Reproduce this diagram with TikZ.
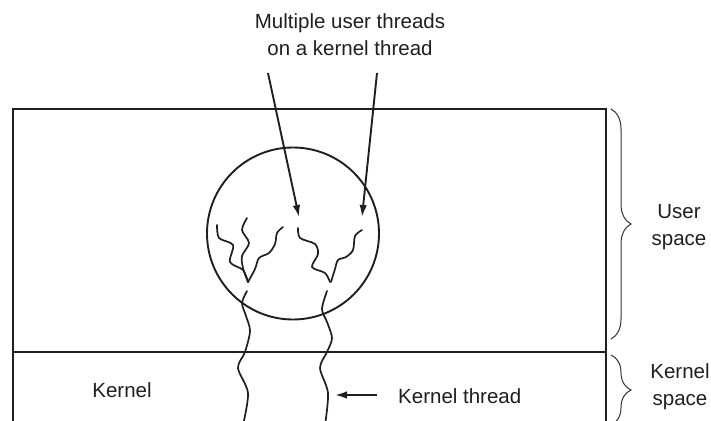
\documentclass[tikz,border=0pt]{standalone}
\usepackage{fontspec}
\setmainfont{Liberation Sans}
\usetikzlibrary{decorations.pathreplacing,arrows.meta}

\begin{document}
\begin{tikzpicture}[
  x=1pt,
  y=-1pt,
  plain/.style={
    draw=none,
    fill=none,
    text=black!88,
    font=\fontsize{20.5}{27}\selectfont,
    align=center,
    inner sep=0pt
  },
  wall/.style={
    draw=black!88,
    line width=1.9pt
  },
  thread/.style={
    draw=black!88,
    line width=1.7pt,
    line cap=round
  },
  pointer/.style={
    draw=black!88,
    line width=1.9pt,
    ->
  },
  bracket/.style={
    draw=black!80,
    line width=1pt,
    decorate,
    decoration={brace,amplitude=20pt}
  },
  >={Latex[length=12pt,width=7.5pt]}
]

\useasboundingbox (0,0) rectangle (711,420);

% Boxes
\draw[wall] (13,430) -- (13,109) -- (606,109) -- (606,430);
\draw[wall] (13,352) -- (606,352);

% Process
\node[wall,circle,minimum size=172pt,inner sep=0pt] (proc) at (293,233.5) {};

% User threads
\draw[thread] plot[smooth] coordinates {(217,225) (219,238) (233,245) (230,262) (243,270) (248,282)};
\draw[thread] plot[smooth] coordinates {(247,218) (242,230) (249,243) (242,256) (243,268) (248,282)};
\draw[thread] plot[smooth] coordinates {(283,227) (277,233) (275,244) (269,253) (259,258) (255,269) (248,282)};
\draw[thread] plot[smooth] coordinates {(298,228) (300,238) (315,244) (318,254) (312,267) (325,273) (330,282)};
\draw[thread] plot[smooth] coordinates {(362,230) (355,236) (353,250) (346,257) (338,260) (335,269) (331,282)};

% Kernel threads
\draw[thread] plot[smooth] coordinates {(247,291) (242,303) (246,316) (250,331) (245,352) (238,368) (248,393) (243,425)};
\draw[thread] plot[smooth] coordinates {(327,291) (322,309) (327,322) (332,338) (327,352) (320,368) (328,393) (325,425)};

% Texts
\node[plain] (title) at (350,35) {Multiple user threads\\on a kernel thread};
\node[plain] (kernel) at (122,390) {Kernel};
\node[plain,anchor=west] (kthread) at (398,396) {Kernel thread};
\node[plain] (user) at (679,227) {User\\space};
\node[plain] (kspace) at (680,387) {Kernel\\space};

% Arrows
\coordinate (a1) at (268,73);
\coordinate (a2) at (377,73);
\coordinate (t1) at (299,217);
\coordinate (t2) at (362,217);
\coordinate (k1) at (335,395);
\draw[pointer] (a1) -- (t1);
\draw[pointer] (a2) -- (t2);
\draw[pointer] (kthread.west) ++(-21,-1) coordinate (k0) -- (k1);

% Braces
\draw[bracket] (611,109) -- (611,339);
\draw[bracket] (611,355) -- (611,425);

\end{tikzpicture}
\end{document}
